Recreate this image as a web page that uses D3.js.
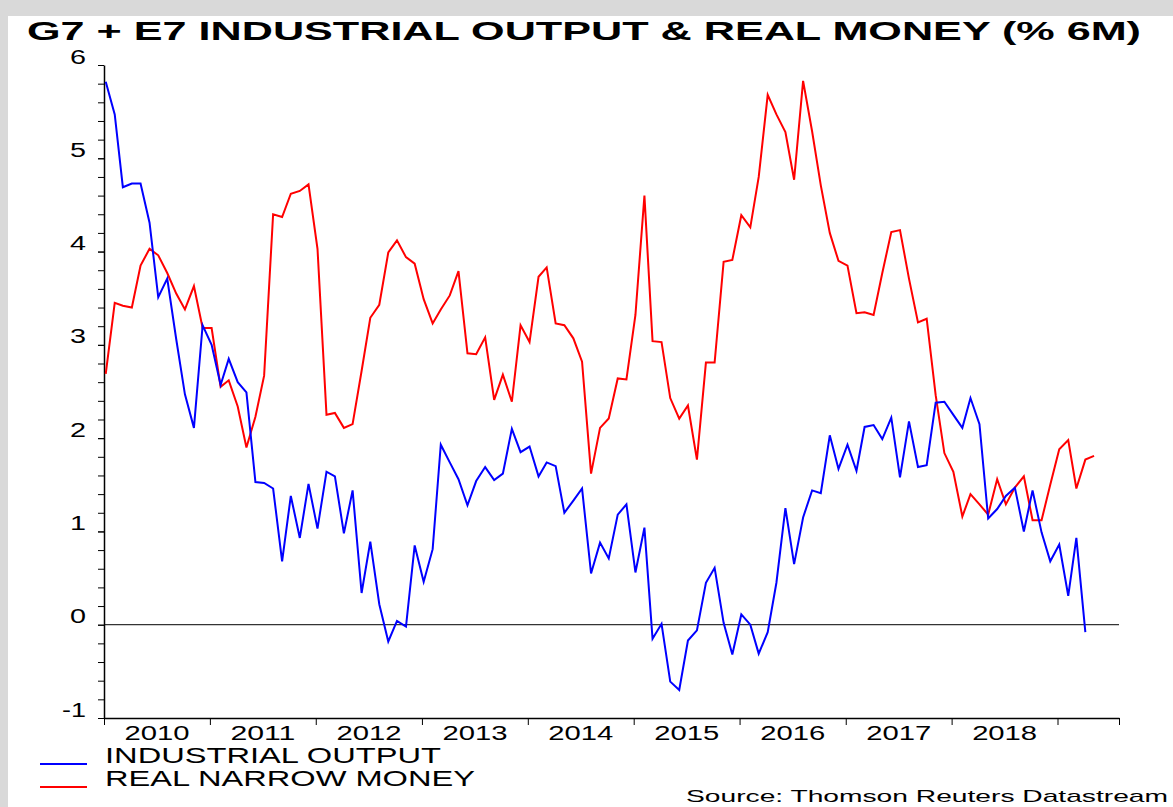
<!DOCTYPE html>
<html>
<head>
<meta charset="utf-8">
<script src="https://cdn.jsdelivr.net/npm/d3@7"></script>
<style>
  html, body { margin: 0; padding: 0; background: #ffffff; }
  svg { display: block; font-family: 'Liberation Sans', Arial, sans-serif; }
</style>
</head>
<body>
<svg width="1173" height="807"></svg>
<script>
// monthly data, first point = Jan 2010
const startYear = 2010;

const industrialOutput = [
  5.82, 5.47, 4.69, 4.73, 4.73, 4.31, 3.51, 3.71, 3.06, 2.47, 2.11, 3.21,
  3.00, 2.57, 2.85, 2.60, 2.49, 1.53, 1.52, 1.46, 0.68, 1.38, 0.93, 1.51,
  1.03, 1.64, 1.59, 0.98, 1.44, 0.34, 0.89, 0.22, -0.18, 0.04, -0.02, 0.85,
  0.46, 0.81, 1.93, 1.74, 1.56, 1.28, 1.54, 1.69, 1.55, 1.62, 2.10, 1.85,
  1.91, 1.59, 1.74, 1.70, 1.20, 1.33, 1.46, 0.55, 0.88, 0.71, 1.18, 1.29,
  0.56, 1.04, -0.15, 0.01, -0.61, -0.70, -0.17, -0.06, 0.45, 0.61, 0.02, -0.32,
  0.11, 0.00, -0.31, -0.08, 0.45, 1.25, 0.65, 1.15, 1.44, 1.41, 2.03, 1.67,
  1.93, 1.65, 2.12, 2.14, 1.99, 2.22, 1.58, 2.18, 1.69, 1.71, 2.38, 2.39,
  2.25, 2.11, 2.43, 2.15, 1.14, 1.24, 1.38, 1.47, 1.00, 1.44, 0.99, 0.68,
  0.86, 0.31, 0.93, -0.08
];

const realNarrowMoney = [
  2.69, 3.45, 3.42, 3.40, 3.85, 4.03, 3.96, 3.77, 3.55, 3.38, 3.63, 3.18,
  3.18, 2.55, 2.62, 2.34, 1.90, 2.23, 2.67, 4.40, 4.37, 4.62, 4.65, 4.72,
  4.03, 2.25, 2.27, 2.11, 2.15, 2.72, 3.29, 3.43, 3.99, 4.12, 3.94, 3.87,
  3.49, 3.23, 3.38, 3.53, 3.79, 2.91, 2.90, 3.08, 2.41, 2.68, 2.39, 3.21,
  3.03, 3.73, 3.83, 3.23, 3.21, 3.07, 2.82, 1.62, 2.11, 2.21, 2.64, 2.63,
  3.32, 4.60, 3.04, 3.03, 2.43, 2.21, 2.35, 1.77, 2.81, 2.81, 3.89, 3.91,
  4.39, 4.26, 4.80, 5.68, 5.47, 5.28, 4.77, 5.83, 5.29, 4.71, 4.20, 3.90,
  3.85, 3.34, 3.35, 3.32, 3.77, 4.21, 4.23, 3.71, 3.24, 3.28, 2.46, 1.84,
  1.64, 1.16, 1.40, 1.29, 1.18, 1.56, 1.29, 1.47, 1.59, 1.12, 1.12, 1.50,
  1.88, 1.98, 1.46, 1.77, 1.81
];

const yTicks = [-1, 0, 1, 2, 3, 4, 5, 6];
const yearLabels = [2010, 2011, 2012, 2013, 2014, 2015, 2016, 2017, 2018];
const yearTicks = [2010, 2011, 2012, 2013, 2014, 2015, 2016, 2017, 2018, 2019];

const blue = "#0000ff";
const red = "#ff0000";
const fontFamily = "'Liberation Sans', Arial, sans-serif";

var svg = d3.select('svg');
var width = +svg.attr('width');
var height = +svg.attr('height');

// fond gris + panneau blanc
svg.append('rect').attr('width', width).attr('height', height).attr('fill', '#d9d9d9');
svg.append('rect').attr('x', 8).attr('y', 16)
  .attr('width', width - 8).attr('height', height - 16).attr('fill', '#ffffff');

// titre (police elargie comme l'original)
svg.append('text')
  .attr('x', 27).attr('y', 40)
  .attr('textLength', 1114).attr('lengthAdjust', 'spacingAndGlyphs')
  .style('font-size', '26px').style('font-weight', 'bold')
  .text('G7 + E7 INDUSTRIAL OUTPUT & REAL MONEY (% 6M)');

// echelles
const x = d3.scaleTime()
  .domain([new Date(2010, 0, 1), new Date(2019, 7, 1)])
  .range([104, 1119]);
const y = d3.scaleLinear()
  .domain([-1, 6])
  .range([718, 65]);

const toPoints = arr => arr.map((v, i) => ({ date: new Date(startYear, i, 7), value: v }));

const g = svg.append('g');

// axe y : petites graduations
g.append('g')
  .attr('transform', 'translate(104,0)')
  .call(d3.axisLeft(y).tickValues(d3.range(-10, 61, 2).map(d => d / 10)).tickSize(6).tickSizeOuter(0).tickFormat(''))
  .call(a => a.select('.domain').attr('stroke', '#000').attr('stroke-width', 1.5));

// axe y : etiquettes
g.append('g')
  .attr('transform', 'translate(104,0)')
  .call(d3.axisLeft(y).tickValues(yTicks).tickSize(6).tickSizeOuter(0).tickPadding(12).tickFormat(d => String(d)))
  .call(a => a.select('.domain').remove())
  .call(a => a.selectAll('text')
    .attr('dy', '-2')
    .attr('textLength', d => String(d).length === 1 ? 16 : 24)
    .attr('lengthAdjust', 'spacingAndGlyphs')
    .style('font-size', '20px')
    .style('font-family', fontFamily)
    .attr('fill', '#000'));

// axe x : graduations annuelles
g.append('g')
  .attr('transform', 'translate(0,718)')
  .call(d3.axisBottom(x)
    .tickValues(yearTicks.map(yr => new Date(yr, 0, 1)).concat([x.domain()[1]]))
    .tickSize(7).tickSizeOuter(0).tickFormat(''))
  .call(a => a.select('.domain').attr('stroke-width', 1.5));

// axe x : annees centrees
g.append('g')
  .attr('transform', 'translate(0,718)')
  .call(d3.axisBottom(x)
    .tickValues(yearLabels.map(yr => new Date(yr, 6, 1)))
    .tickSize(0).tickFormat(d3.timeFormat('%Y')))
  .call(a => a.select('.domain').remove())
  .call(a => a.selectAll('text')
    .attr('y', 22).attr('dy', '0')
    .attr('textLength', 65).attr('lengthAdjust', 'spacingAndGlyphs')
    .style('font-size', '20px')
    .style('font-family', fontFamily)
    .attr('fill', '#000'));

// ligne du zero
g.append('line')
  .attr('x1', x.range()[0]).attr('x2', x.range()[1])
  .attr('y1', y(0)).attr('y2', y(0))
  .attr('stroke', '#000').attr('stroke-width', 1);

// courbes
const line = d3.line()
  .x(d => x(d.date))
  .y(d => y(d.value));

g.append('path')
  .datum(toPoints(realNarrowMoney))
  .attr('d', line)
  .attr('fill', 'none').attr('stroke', red).attr('stroke-width', 2);

g.append('path')
  .datum(toPoints(industrialOutput))
  .attr('d', line)
  .attr('fill', 'none').attr('stroke', blue).attr('stroke-width', 2);

// legende
const legend = [
  { label: 'INDUSTRIAL OUTPUT', color: blue, len: 336 },
  { label: 'REAL NARROW MONEY', color: red, len: 370 }
];
const lg = svg.append('g');
legend.forEach((d, i) => {
  lg.append('line')
    .attr('x1', 40).attr('x2', 87)
    .attr('y1', 764 + i * 23).attr('y2', 764 + i * 23)
    .attr('stroke', d.color).attr('stroke-width', 2);
  lg.append('text')
    .attr('x', 105).attr('y', 763 + i * 23)
    .attr('textLength', d.len).attr('lengthAdjust', 'spacingAndGlyphs')
    .style('font-size', '22px')
    .text(d.label);
});

// source
svg.append('text')
  .attr('x', 686).attr('y', 802)
  .attr('textLength', 482).attr('lengthAdjust', 'spacingAndGlyphs')
  .style('font-size', '17px')
  .text('Source: Thomson Reuters Datastream');
</script>
</body>
</html>
